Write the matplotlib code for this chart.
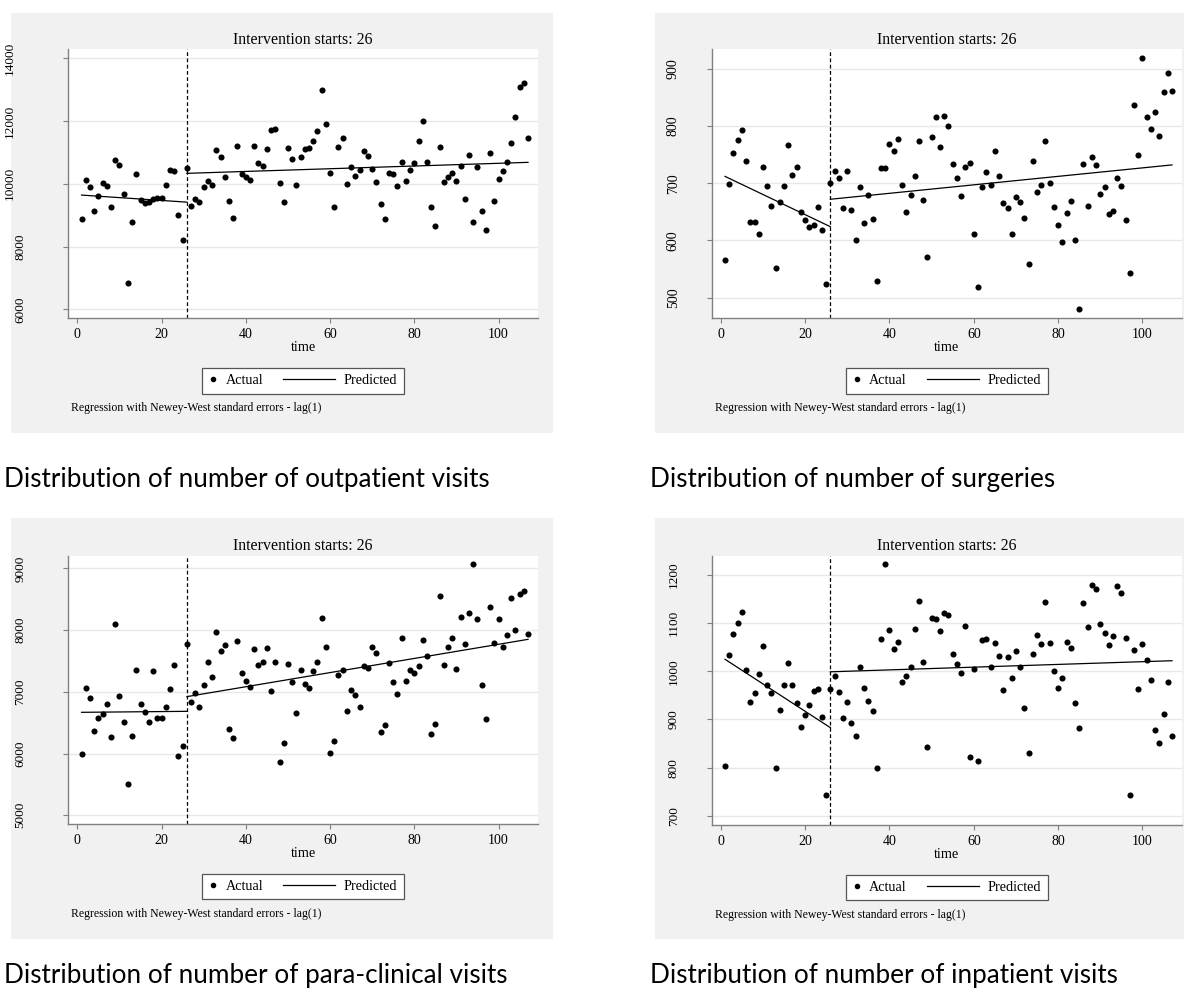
import matplotlib
matplotlib.use('Agg')
import numpy as np
import matplotlib.pyplot as plt
from matplotlib.lines import Line2D
from matplotlib.legend_handler import HandlerLine2D
from matplotlib.patches import Rectangle
import matplotlib.transforms as mtransforms

plt.rcParams['font.family'] = ['Liberation Serif', 'DejaVu Serif']

# ---------------- data ----------------
time = np.arange(1, 108)
intervention = 26

outpatient = [8867, 10131, 9898, 9133, 9600, 10014, 9940, 9250, 10758, 10588,
              9675, 6828, 8782, 10312, 9483, 9377, 9408, 9525, 9536, 9536,
              9961, 10429, 10408, 9005, 8198, 10492, 9303, 9515, 9430, 9908,
              10099, 9961, 11066, 10853, 10216, 9451, 8899, 11204, 10301, 10227,
              10120, 11204, 10673, 10567, 11108, 11703, 11735, 10014, 9409, 11130,
              10790, 9961, 10864, 11119, 11130, 11352, 11692, 12988, 11915, 10354,
              9250, 11161, 11448, 9983, 10524, 10259, 10429, 11045, 10885, 10482,
              10067, 9356, 8889, 10354, 10301, 9929, 10705, 10089, 10439, 10652,
              11352, 11990, 10683, 9250, 8644, 11161, 10046, 10206, 10354, 10099,
              10567, 9526, 10906, 8772, 10524, 9133, 8528, 10991, 9462, 10142,
              10407, 10683, 11289, 12128, 13094, 13221, 11459]

surgeries = [565, 699, 753, 775, 793, 738, 633, 632, 612, 729,
             695, 661, 552, 667, 695, 767, 714, 728, 649, 636,
             623, 627, 658, 618, 524, 700, 722, 710, 657, 721,
             654, 601, 694, 630, 680, 638, 530, 726, 726, 768,
             757, 777, 697, 650, 680, 712, 773, 670, 571, 780,
             816, 764, 817, 800, 734, 710, 678, 729, 735, 611,
             518, 693, 719, 697, 756, 713, 665, 657, 611, 676,
             667, 639, 559, 739, 684, 697, 773, 700, 658, 627,
             597, 648, 669, 600, 480, 734, 660, 746, 732, 682,
             693, 647, 651, 709, 696, 636, 544, 836, 750, 918,
             815, 795, 825, 783, 860, 892, 861]

paraclinical = [5993, 7067, 6895, 6360, 6576, 6641, 6803, 6269, 8098, 6932,
                6517, 5513, 6285, 7348, 6803, 6673, 6517, 7332, 6582, 6571,
                6749, 7040, 7434, 5961, 6117, 7769, 6835, 6986, 6749, 7111,
                7478, 7246, 7974, 7656, 7764, 6403, 6258, 7818, 7305, 7175,
                7078, 7688, 7429, 7488, 7704, 7008, 7478, 5869, 6171, 7451,
                7154, 6657, 7348, 7127, 7057, 7337, 7488, 8201, 7731, 6015,
                6204, 7273, 7348, 6695, 7030, 6949, 6749, 7418, 7381, 7726,
                7623, 6344, 6463, 7461, 7165, 6965, 7872, 7181, 7348, 7310,
                7418, 7839, 7586, 6312, 6484, 8557, 7440, 7726, 7872, 7370,
                8217, 7775, 8277, 9065, 8180, 7116, 6560, 8379, 7791, 8180,
                7726, 7915, 8519, 8001, 8584, 8627, 7942]

inpatient = [804, 1033, 1077, 1100, 1124, 1002, 937, 955, 994, 1053,
             972, 955, 800, 919, 972, 1018, 972, 934, 884, 909,
             930, 960, 964, 906, 744, 963, 990, 958, 903, 937,
             892, 866, 1008, 965, 938, 918, 800, 1067, 1222, 1085,
             1046, 1060, 978, 990, 1008, 1087, 1147, 1019, 843, 1111,
             1109, 1084, 1122, 1116, 1035, 1015, 997, 1094, 823, 1005,
             814, 1066, 1068, 1008, 1059, 1032, 962, 1029, 987, 1042,
             1008, 924, 830, 1035, 1076, 1057, 1143, 1059, 1000, 965,
             987, 1061, 1049, 934, 883, 1141, 1091, 1180, 1170, 1099,
             1080, 1054, 1073, 1177, 1162, 1069, 744, 1044, 963, 1057,
             1024, 983, 879, 851, 911, 978, 865]

# predicted (Newey-West) segments: [start, end] values
pre_t = [1, 26]
post_t = [26, 107]
pred_pre = {'out': [9640, 9415], 'surg': [712, 624], 'para': [6668, 6684], 'inp': [1025, 883]}
pred_post = {'out': [10333, 10683], 'surg': [672, 732], 'para': [6922, 7850], 'inp': [999, 1022]}

xticks = [0, 20, 40, 60, 80, 100]
yticks = {'out': [6000, 8000, 10000, 12000, 14000],
          'surg': [500, 600, 700, 800, 900],
          'para': [5000, 6000, 7000, 8000, 9000],
          'inp': [700, 800, 900, 1000, 1100, 1200]}
ylims = {'out': (5713, 14286), 'surg': (464, 934), 'para': (4854, 9205), 'inp': (681, 1240)}

captions = {'out': 'Distribution of number of outpatient visits',
            'surg': 'Distribution of number of surgeries',
            'para': 'Distribution of number of para-clinical visits',
            'inp': 'Distribution of number of inpatient visits'}
series = {'out': outpatient, 'surg': surgeries, 'para': paraclinical, 'inp': inpatient}

title_text = 'Intervention starts: 26'
note_text = 'Regression with Newey-West standard errors - lag(1)'

# ---------------- layout ----------------
W, H = 1184, 992
fig = plt.figure(figsize=(W / 100, H / 100), dpi=100)
fig.patch.set_facecolor('white')


def frac(x0, y0, x1, y1):
    return [x0 / W, 1 - y1 / H, (x1 - x0) / W, (y1 - y0) / H]


GRAY = '#F1F1F1'
panels = {
    'out': dict(ax=(68.3, 49.3, 537.7, 318.3), bg=(11, 12.7, 553, 433), cap=(3.6, 479), ypad=26.6, ysize=9.5),
    'surg': dict(ax=(711.7, 49.3, 1181.7, 318.3), bg=(654.6, 12.7, 1200, 433), cap=(650.4, 479), ypad=19.4, ysize=10),
    'para': dict(ax=(68.3, 555.7, 537.7, 824.3), bg=(11, 518, 553, 939), cap=(3.6, 975), ypad=26.6, ysize=9.5),
    'inp': dict(ax=(711.7, 555.7, 1181.7, 825), bg=(654.6, 518, 1200, 939), cap=(650.4, 975), ypad=19.4, ysize=9.5),
}


class LeftExtLine(HandlerLine2D):
    def __init__(self, ext, **kw):
        super().__init__(**kw)
        self.ext = ext

    def create_artists(self, legend, orig_handle, xdescent, ydescent, width, height, fontsize, trans):
        y = (height - ydescent) / 2.0
        line = Line2D([-xdescent - self.ext, -xdescent + width], [y, y])
        self.update_prop(line, orig_handle, legend)
        line.set_transform(trans)
        return [line]


for key, p in panels.items():
    bx0, by0, bx1, by1 = p['bg']
    fig.patches.append(Rectangle((bx0 / W, 1 - by1 / H), (bx1 - bx0) / W, (by1 - by0) / H,
                                 transform=fig.transFigure, facecolor=GRAY, edgecolor='none', zorder=-10))
    ax = fig.add_axes(frac(*p['ax']))
    ax.set_zorder(1)
    ax.set_facecolor('white')
    y = series[key]
    ax.plot(time, y, 'o', color='black', ms=4.4, mew=0, zorder=3)
    ax.plot(pre_t, pred_pre[key], color='black', lw=0.9, zorder=3)
    ax.plot(post_t, pred_post[key], color='black', lw=0.9, zorder=3)
    ax.axvline(intervention, color='black', lw=0.9, ls=(0, (3, 2)), zorder=2)

    ax.set_xlim(-2.15, 109.3)
    ax.set_ylim(*ylims[key])
    ax.set_xticks(xticks)
    ax.set_yticks(yticks[key])
    ax.set_yticklabels([str(v) for v in yticks[key]])
    ax.yaxis.grid(True, color='#E8E8E8', lw=1.0)
    ax.set_axisbelow(True)
    for s in ['top', 'right']:
        ax.spines[s].set_visible(False)
    for s in ['left', 'bottom']:
        ax.spines[s].set_color('#808080')
        ax.spines[s].set_linewidth(1.0)
    ax.tick_params(axis='both', colors='#808080', length=3.6, width=0.8, labelcolor='black')
    ax.tick_params(axis='x', pad=3.5, labelsize=10)
    ax.tick_params(axis='y', pad=p['ypad'], labelrotation=90, labelsize=p['ysize'])
    for lab in ax.get_yticklabels():
        lab.set_va('center')

    if key == 'out':
        shift = mtransforms.ScaledTranslation(-11 / 100, 0, fig.dpi_scale_trans)
        for lab, v in zip(ax.get_yticklabels(), yticks[key]):
            if v >= 10000:
                lab.set_transform(lab.get_transform() + shift)

    ax.set_title(title_text, fontsize=11.4, pad=4.0)
    ax.set_xlabel('time', fontsize=10.3, labelpad=0)

    h_act = Line2D([], [], ls='none', marker='o', color='black', ms=4.0, mew=0)
    h_pred = Line2D([], [], color='black', lw=0.9)
    leg = ax.legend(handles=[h_act, h_pred], labels=['Actual', 'Predicted'], loc='center',
                    bbox_to_anchor=(0.5, -0.232), ncol=2, handlelength=0.6, handletextpad=0.6,
                    columnspacing=4.5, borderpad=0.45, fancybox=False, framealpha=1,
                    edgecolor='#555555', fontsize=10.2,
                    handler_map={h_pred: LeftExtLine(31.4)})
    leg.get_frame().set_linewidth(0.9)

    ax.text(0.006, -0.333, note_text, transform=ax.transAxes, fontsize=8.5, va='center', ha='left')

    cx, cy = p['cap']
    fig.text(cx / W, 1 - cy / H, captions[key], fontsize=18.8, family=['Lato', 'DejaVu Sans'],
             ha='left', va='center', color='black')

fig.savefig('out.png', dpi=100, facecolor='white')
